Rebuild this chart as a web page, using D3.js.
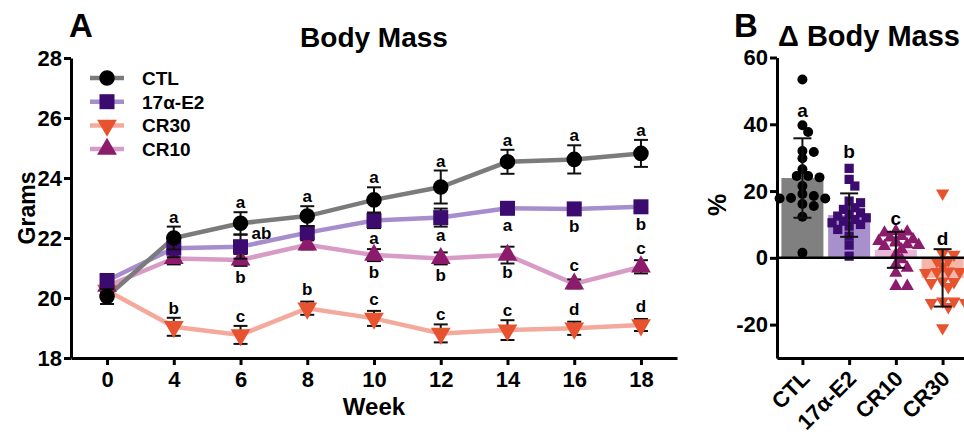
<!DOCTYPE html>
<html>
<head>
<meta charset="utf-8">
<script src="https://cdnjs.cloudflare.com/ajax/libs/d3/7.8.5/d3.min.js"></script>
<style>
  body { margin: 0; background: #fff; }
  svg text { font-family: "Liberation Sans", Arial, Helvetica, sans-serif; font-weight: bold; fill: #000; }
  .axis path, .axis line { stroke: #000; stroke-width: 3; }
</style>
</head>
<body>
<div id="chart"></div>
<script>
// Panel A: body mass by week
var weeks = [0, 4, 6, 8, 10, 12, 14, 16, 18];
var ctlMass = [20.05, 22.0, 22.49, 22.73, 23.27, 23.7, 24.54, 24.62, 24.82];
var ctlErr = [0.25, 0.38, 0.37, 0.33, 0.42, 0.55, 0.4, 0.47, 0.45];
var e2Mass = [20.58, 21.66, 21.71, 22.18, 22.58, 22.68, 22.99, 22.97, 23.04];
var e2Err = [0.22, 0.3, 0.4, 0.2, 0.25, 0.3, 0.15, 0.15, 0.15];
var cr30Mass = [20.25, 19.04, 18.77, 19.66, 19.32, 18.82, 18.93, 18.99, 19.1];
var cr30Err = [0.2, 0.3, 0.3, 0.22, 0.25, 0.3, 0.33, 0.22, 0.2];
var cr10Mass = [20.4, 21.32, 21.27, 21.77, 21.43, 21.32, 21.43, 20.47, 21.04];
var cr10Err = [0.2, 0.2, 0.2, 0.15, 0.2, 0.2, 0.28, 0.15, 0.22];

// significance letters per week, and where they sit
var ctlLetters = ["", "a", "a", "a", "a", "a", "a", "a", "a"];
var ctlSides = ["", "above", "above", "above", "above", "above", "above", "above", "above"];
var e2Letters = ["", "", "ab", "", "a", "a", "a", "b", "b"];
var e2Sides = ["", "", "right", "", "below", "below", "below", "below", "below"];
var cr30Letters = ["", "b", "c", "b", "c", "c", "c", "d", "d"];
var cr30Sides = ["", "above", "above", "above", "above", "above", "above", "above", "above"];
var cr10Letters = ["", "", "b", "", "b", "b", "b", "c", "c"];
var cr10Sides = ["", "", "below", "", "below", "below", "below", "above", "above"];

var yTicksA = [18, 20, 22, 24, 26, 28];

// Panel B: change in body mass
var bGroups = ["CTL", "17α-E2", "CR10", "CR30"];
var bMeans = [23.9, 12.8, 2.4, -6.0];
var bSd = [11.9, 6.5, 5.4, 8.6];
var bLetters = ["a", "b", "c", "d"];
var bLetterAt = [44, 31.7, 11.5, 5.5];
var ctlDelta = [53.4, 39.7, 37.7, 32.0, 31.7, 29.8, 26.5, 24.1, 24.5, 24.5, 21.5, 19.1, 18.5, 17.9, 17.8, 17.8, 16.1, 15.5, 12.3, 1.5];
var e2Delta = [26.8, 23.5, 21.5, 17.0, 16.5, 15.0, 14.5, 13.5, 13.0, 12.5, 12.0, 11.5, 11.0, 10.5, 10.0, 9.5, 8.5, 6.5, 3.8, 0.5];
var cr10Delta = [8.0, 7.8, 7.5, 6.5, 6.0, 5.5, 5.0, 4.8, 4.5, 4.0, 3.8, 3.5, 2.5, 1.0, -0.5, -2.0, -3.0, -4.5, -8.5, -8.5];
var cr30Delta = [19.3, 1.3, 1.0, -0.7, -1.0, -2.5, -4.0, -4.2, -4.2, -4.5, -7.0, -7.2, -7.5, -8.7, -13.0, -13.0, -13.5, -13.5, -14.7, -21.0];
var yTicksB = [-20, 0, 20, 40, 60];

var svg = d3.select("#chart").append("svg")
    .attr("width", 964)
    .attr("height", 441);

// ---------- Panel A ----------
var xA = d3.scalePoint()
    .domain(weeks)
    .range([71, 677])
    .padding(0.54);

var yA = d3.scaleLinear()
    .domain([18, 28])
    .range([358, 58]);

var seriesA = [
    { name: "CR30", mass: cr30Mass, err: cr30Err, letters: cr30Letters, sides: cr30Sides,
      line: "#f4a99d", fill: "#e8532f", symbol: d3.symbolTriangle, size: 170, flip: true },
    { name: "CR10", mass: cr10Mass, err: cr10Err, letters: cr10Letters, sides: cr10Sides,
      line: "#d79bc6", fill: "#8c1b6b", symbol: d3.symbolTriangle, size: 170, flip: false },
    { name: "17α-E2", mass: e2Mass, err: e2Err, letters: e2Letters, sides: e2Sides,
      line: "#a68dcb", fill: "#3c0b6f", symbol: d3.symbolSquare, size: 225, flip: false },
    { name: "CTL", mass: ctlMass, err: ctlErr, letters: ctlLetters, sides: ctlSides,
      line: "#7b7b7b", fill: "#000", symbol: d3.symbolCircle, size: 190, flip: false }
];

var gA = svg.append("g");

// axes
gA.append("g")
    .attr("class", "axis")
    .attr("transform", "translate(71,0)")
    .call(d3.axisLeft(yA).tickValues(yTicksA).tickSize(7).tickSizeOuter(0).tickPadding(2))
    .selectAll("text")
    .style("font-size", "22px");

gA.append("g")
    .attr("class", "axis")
    .attr("transform", "translate(0,358)")
    .call(d3.axisBottom(xA).tickSize(7).tickSizeOuter(0).tickPadding(6))
    .selectAll("text")
    .style("font-size", "22px");

// lines first
var lineA = d3.line()
    .x(function (d, i) { return xA(weeks[i]); })
    .y(function (d) { return yA(d); });

seriesA.forEach(function (s) {
    gA.append("path")
        .datum(s.mass)
        .attr("d", lineA)
        .attr("fill", "none")
        .attr("stroke", s.line)
        .attr("stroke-width", 4.5);
});

// error bars, markers and letters for each series
seriesA.forEach(function (s) {
    var g = gA.append("g");
    s.mass.forEach(function (m, i) {
        var x = xA(weeks[i]);
        var top = yA(m + s.err[i]);
        var bot = yA(m - s.err[i]);
        g.append("line").attr("x1", x).attr("x2", x).attr("y1", top).attr("y2", bot)
            .attr("stroke", "#111").attr("stroke-width", 2);
        [top, bot].forEach(function (yy) {
            g.append("line").attr("x1", x - 7).attr("x2", x + 7).attr("y1", yy).attr("y2", yy)
                .attr("stroke", "#111").attr("stroke-width", 2);
        });
    });
    g.selectAll("path.mark")
        .data(s.mass)
        .enter()
        .append("path")
        .attr("class", "mark")
        .attr("d", d3.symbol().type(s.symbol).size(s.size))
        .attr("transform", function (d, i) {
            return "translate(" + xA(weeks[i]) + "," + yA(d) + ")" + (s.flip ? " rotate(180)" : "");
        })
        .attr("fill", s.fill);

    s.letters.forEach(function (t, i) {
        if (!t) return;
        var x = xA(weeks[i]);
        var m = s.mass[i];
        var side = s.sides[i];
        var ty, anchor = "middle";
        if (side === "above") {
            ty = Math.min(yA(m + s.err[i]), yA(m) - 9) - 4;
        } else if (side === "below") {
            ty = Math.max(yA(m - s.err[i]), yA(m) + 9) + 14;
        } else {
            ty = yA(m) - 8;
            x = x + 11;
            anchor = "start";
        }
        g.append("text")
            .attr("x", x)
            .attr("y", ty)
            .attr("text-anchor", anchor)
            .style("font-size", "17px")
            .text(t);
    });
});

// legend
var legendOrder = ["CTL", "17α-E2", "CR30", "CR10"];
var legend = gA.append("g");
legendOrder.forEach(function (name, i) {
    var s = seriesA.filter(function (d) { return d.name === name; })[0];
    var ly = 78 + i * 23.7;
    legend.append("line").attr("x1", 90).attr("x2", 124).attr("y1", ly).attr("y2", ly)
        .attr("stroke", s.line).attr("stroke-width", 4.5);
    legend.append("path")
        .attr("d", d3.symbol().type(s.symbol).size(s.size))
        .attr("transform", "translate(107," + ly + ")" + (s.flip ? " rotate(180)" : ""))
        .attr("fill", s.fill);
    legend.append("text")
        .attr("x", 142)
        .attr("y", ly + 7)
        .style("font-size", "19px")
        .text(name);
});

// titles and labels
gA.append("text").attr("x", 69).attr("y", 37).style("font-size", "33px").text("A");
gA.append("text").attr("x", 374).attr("y", 47).attr("text-anchor", "middle")
    .style("font-size", "28px").text("Body Mass");
gA.append("text").attr("x", 374).attr("y", 415).attr("text-anchor", "middle")
    .style("font-size", "24px").text("Week");
gA.append("text")
    .attr("transform", "translate(35,208) rotate(-90)")
    .attr("text-anchor", "middle")
    .style("font-size", "23px")
    .text("Grams");

// ---------- Panel B ----------
var xB = d3.scalePoint()
    .domain(bGroups)
    .range([777, 968])
    .padding(0.544);

var yB = d3.scaleLinear()
    .domain([-30, 60])
    .range([358, 57.5]);

var bBarFill = ["#808080", "#a890cc", "#e9b7d7", "#f5b5a9"];
var bMark = ["#000", "#3c0b6f", "#8c1b6b", "#e8532f"];
var bSym = [d3.symbolCircle, d3.symbolSquare, d3.symbolTriangle, d3.symbolTriangle];
var bSize = [78, 85, 75, 75];
var bFlip = [false, false, false, true];
var bPoints = [ctlDelta, e2Delta, cr10Delta, cr30Delta];

var gB = svg.append("g");

// bars
gB.selectAll("rect.bar")
    .data(bMeans)
    .enter()
    .append("rect")
    .attr("class", "bar")
    .attr("x", function (d, i) { return xB(bGroups[i]) - 21; })
    .attr("width", 42)
    .attr("y", function (d) { return yB(Math.max(0, d)); })
    .attr("height", function (d) { return Math.abs(yB(d) - yB(0)); })
    .attr("fill", function (d, i) { return bBarFill[i]; });

// simple beeswarm so points spread sideways, kept inside the bar width
function swarm(values, cx, diam) {
    var placed = [];
    var order = values.map(function (v, i) { return i; })
        .sort(function (a, b) { return values[b] - values[a]; });
    order.forEach(function (i) {
        var y = yB(values[i]);
        var best = null;
        for (var k = 0; k < 9; k++) {
            var off = (k % 2 ? 1 : -1) * Math.ceil(k / 2) * diam * 0.6;
            var x = cx + off;
            var hit = placed.some(function (p) {
                return (p.x - x) * (p.x - x) + (p.y - y) * (p.y - y) < diam * diam * 0.55;
            });
            if (!hit) { best = x; break; }
        }
        if (best === null) best = cx;
        placed.push({ x: best, y: y });
    });
    return placed;
}

bPoints.forEach(function (vals, gi) {
    var pts = swarm(vals, xB(bGroups[gi]), 9.5);
    gB.selectAll("path.pt" + gi)
        .data(pts)
        .enter()
        .append("path")
        .attr("d", d3.symbol().type(bSym[gi]).size(bSize[gi]))
        .attr("transform", function (d) {
            return "translate(" + d.x + "," + d.y + ")" + (bFlip[gi] ? " rotate(180)" : "");
        })
        .attr("fill", bMark[gi]);
});

// SD error bars
bMeans.forEach(function (m, i) {
    var x = xB(bGroups[i]);
    var top = yB(m + bSd[i]);
    var bot = yB(m - bSd[i]);
    gB.append("line").attr("x1", x).attr("x2", x).attr("y1", top).attr("y2", bot)
        .attr("stroke", "#111").attr("stroke-width", 2);
    [top, bot].forEach(function (yy) {
        gB.append("line").attr("x1", x - 9).attr("x2", x + 9).attr("y1", yy).attr("y2", yy)
            .attr("stroke", "#111").attr("stroke-width", 2);
    });
    gB.append("text")
        .attr("x", x)
        .attr("y", yB(bLetterAt[i]) + 6)
        .attr("text-anchor", "middle")
        .style("font-size", "19px")
        .text(bLetters[i]);
});

// zero line
gB.append("line")
    .attr("x1", 777).attr("x2", 968)
    .attr("y1", yB(0)).attr("y2", yB(0))
    .attr("stroke", "#000").attr("stroke-width", 2.5);

// axes
gB.append("g")
    .attr("class", "axis")
    .attr("transform", "translate(777,0)")
    .call(d3.axisLeft(yB).tickValues(yTicksB).tickSize(7).tickSizeOuter(0).tickPadding(2)
        .tickFormat(function (d) { return String(d); }))
    .selectAll("text")
    .style("font-size", "22px");

var xAxisB = gB.append("g")
    .attr("class", "axis")
    .attr("transform", "translate(0,358)")
    .call(d3.axisBottom(xB).tickSize(7).tickSizeOuter(0));

xAxisB.selectAll("text")
    .style("font-size", "22px")
    .attr("text-anchor", "end")
    .attr("dy", null)
    .attr("y", null)
    .attr("transform", "translate(8,22) rotate(-45)");

// titles
gB.append("text").attr("x", 734).attr("y", 37).style("font-size", "33px").text("B");
gB.append("text").attr("x", 778).attr("y", 46).style("font-size", "29px").text("Δ Body Mass");
gB.append("text")
    .attr("transform", "translate(726,205) rotate(-90)")
    .attr("text-anchor", "middle")
    .style("font-size", "25px")
    .text("%");
</script>
</body>
</html>
